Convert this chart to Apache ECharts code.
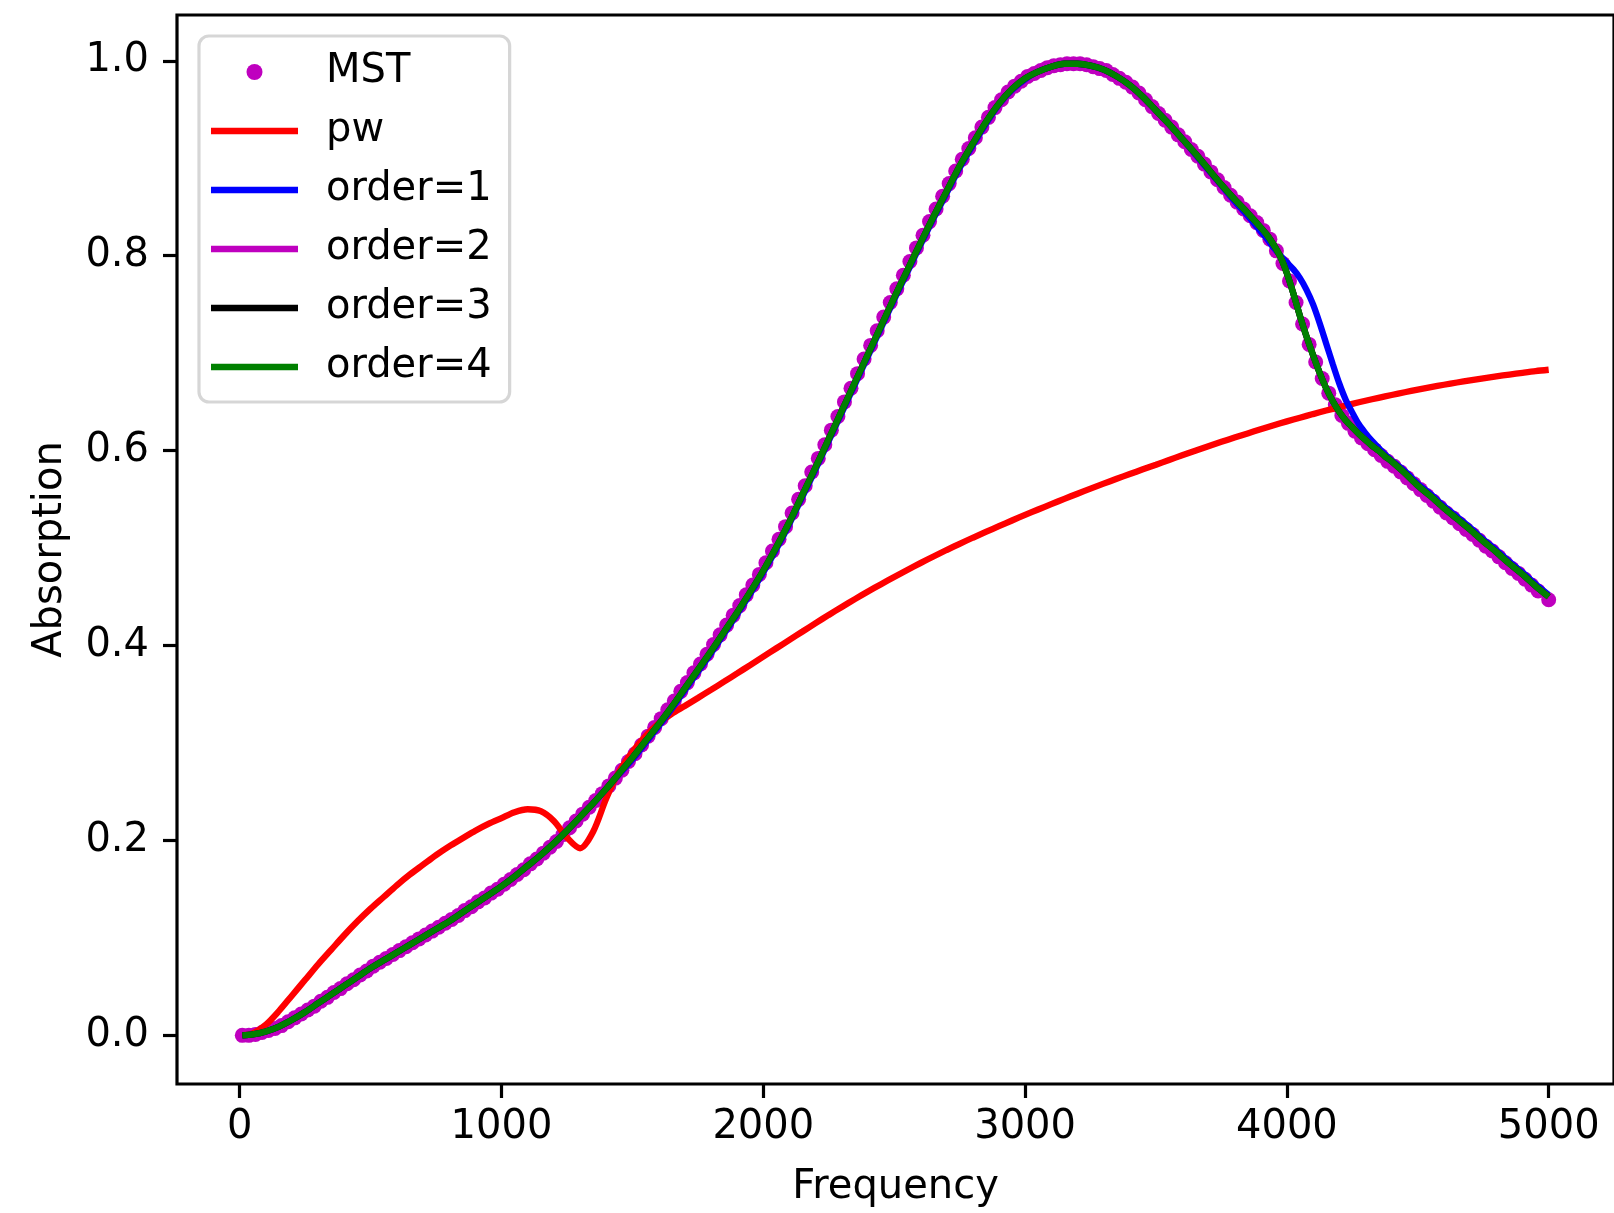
<!DOCTYPE html>
<html>
<head>
<meta charset="utf-8">
<script src="https://cdn.jsdelivr.net/npm/echarts@6/dist/echarts.min.js"></script>
<style>
html,body{margin:0;padding:0;background:#fff;}
#chart{width:1614px;height:1213px;}
</style>
</head>
<body>
<div id="chart"></div>
<script>
// ---- data ----
const mstFreq = [10,35,60,85,110,135,160,185,210,235,260,285,310,335,360,385,410,435,460,485,
510,535,560,585,610,635,660,685,710,735,760,785,810,835,860,885,910,935,960,985,
1010,1035,1060,1085,1110,1135,1160,1185,1210,1235,1260,1285,1310,1335,1360,1385,1410,1435,1460,1485,
1510,1535,1560,1585,1610,1635,1660,1685,1710,1735,1760,1785,1810,1835,1860,1885,1910,1935,1960,1985,
2010,2035,2060,2085,2110,2135,2160,2185,2210,2235,2260,2285,2310,2335,2360,2385,2410,2435,2460,2485,
2510,2535,2560,2585,2610,2635,2660,2685,2710,2735,2760,2785,2810,2835,2860,2885,2910,2935,2960,2985,
3010,3035,3060,3085,3110,3135,3160,3185,3210,3235,3260,3285,3310,3335,3360,3385,3410,3435,3460,3485,
3510,3535,3560,3585,3610,3635,3660,3685,3710,3735,3760,3785,3810,3835,3860,3885,3910,3935,3960,3985,
4010,4035,4060,4085,4110,4135,4160,4185,4210,4235,4260,4285,4310,4335,4360,4385,4410,4435,4460,4485,
4510,4535,4560,4585,4610,4635,4660,4685,4710,4735,4760,4785,4810,4835,4860,4885,4910,4935,4960,5000];

const mstAbs = [0.000,0.000,0.001,0.003,0.005,0.007,0.010,0.014,0.018,0.022,
0.026,0.030,0.035,0.039,0.044,0.048,0.053,0.057,0.062,0.066,
0.071,0.075,0.079,0.083,0.087,0.091,0.095,0.099,0.103,0.107,
0.111,0.115,0.119,0.123,0.128,0.132,0.137,0.141,0.146,0.150,
0.155,0.160,0.165,0.170,0.176,0.181,0.187,0.193,0.199,0.206,
0.213,0.220,0.227,0.234,0.241,0.248,0.256,0.264,0.272,0.281,
0.289,0.298,0.307,0.316,0.325,0.334,0.343,0.353,0.362,0.372,
0.381,0.391,0.401,0.411,0.421,0.431,0.441,0.452,0.462,0.473,
0.485,0.497,0.509,0.522,0.536,0.550,0.564,0.578,0.592,0.606,
0.621,0.635,0.650,0.664,0.679,0.694,0.708,0.723,0.737,0.752,
0.766,0.780,0.794,0.808,0.821,0.835,0.848,0.861,0.874,0.887,
0.899,0.910,0.921,0.932,0.942,0.952,0.960,0.968,0.974,0.979,
0.984,0.987,0.990,0.993,0.995,0.996,0.997,0.997,0.997,0.996,
0.994,0.992,0.990,0.986,0.982,0.978,0.973,0.967,0.960,0.953,
0.946,0.939,0.932,0.924,0.917,0.909,0.902,0.894,0.886,0.878,
0.870,0.862,0.855,0.848,0.841,0.834,0.826,0.817,0.805,0.792,
0.774,0.752,0.730,0.709,0.691,0.674,0.659,0.647,0.636,0.628,
0.620,0.613,0.607,0.601,0.595,0.589,0.584,0.578,0.572,0.566,
0.560,0.554,0.548,0.542,0.536,0.531,0.525,0.519,0.514,0.508,
0.502,0.497,0.491,0.485,0.479,0.474,0.468,0.462,0.456,0.447];

// pw (plane wave) curve
const pwFreq = [10,50,100,150,200,250,300,350,400,450,
500,550,600,650,700,750,800,850,900,950,
1000,1050,1100,1150,1200,1250,1300,1350,1400,1450,
1500,1550,1600,1650,1700,1750,1800,1850,1900,1950,
2000,2050,2100,2150,2200,2250,2300,2350,2400,2450,
2500,2550,2600,2650,2700,2750,2800,2850,2900,2950,
3000,3050,3100,3150,3200,3250,3300,3350,3400,3450,
3500,3550,3600,3650,3700,3750,3800,3850,3900,3950,
4000,4050,4100,4150,4200,4250,4300,4350,4400,4450,
4500,4550,4600,4650,4700,4750,4800,4850,4900,4950,
5000];
const pwAbs = [0.000,0.002,0.011,0.025,0.041,0.057,0.073,0.088,0.103,0.117,
0.130,0.142,0.154,0.165,0.175,0.185,0.194,0.202,0.210,0.217,
0.223,0.229,0.232,0.230,0.220,0.203,0.192,0.209,0.243,0.271,
0.291,0.307,0.320,0.330,0.3380,0.3462,0.3545,0.3629,0.3714,0.3800,
0.3886,0.3972,0.4058,0.4144,0.4230,0.4314,0.4396,0.4476,0.4554,0.4630,
0.4704,0.4776,0.4846,0.4914,0.4980,0.5044,0.5106,0.5166,0.5225,0.5283,
0.5340,0.5396,0.5451,0.5505,0.5558,0.5610,0.5661,0.5711,0.5760,0.5808,
0.5855,0.5904,0.5952,0.5999,0.6045,0.6090,0.6134,0.6177,0.6219,0.6260,
0.6300,0.6338,0.6375,0.6411,0.6446,0.6480,0.6512,0.6542,0.6571,0.6599,
0.6626,0.6652,0.6676,0.6699,0.6721,0.6742,0.6762,0.6781,0.6799,0.6816,
0.6830];

// fitted orders (finer steps around the 4 kHz feature)
const orderFreq = [10,50,100,150,200,250,300,350,400,450,
500,550,600,650,700,750,800,850,900,950,
1000,1050,1100,1150,1200,1250,1300,1350,1400,1450,
1500,1550,1600,1650,1700,1750,1800,1850,1900,1950,
2000,2050,2100,2150,2200,2250,2300,2350,2400,2450,
2500,2550,2600,2650,2700,2750,2800,2850,2900,2950,
3000,3050,3100,3150,3200,3250,3300,3350,3400,3450,
3500,3550,3600,3650,3700,3750,3800,3850,
3900,3925,3950,3975,4000,4025,4050,4075,4100,4125,4150,4175,4200,4225,4250,4275,4300,4325,4350,4375,4400,
4450,4500,4550,4600,4650,4700,4750,4800,4850,4900,4950,5000];

const order1Abs = [0.000,0.001,0.004,0.009,0.016,0.024,0.033,0.042,0.051,0.060,
0.069,0.077,0.085,0.093,0.101,0.109,0.117,0.126,0.135,0.144,
0.153,0.163,0.174,0.185,0.197,0.210,0.224,0.238,0.253,0.268,
0.283,0.300,0.317,0.335,0.354,0.373,0.392,0.412,0.432,0.453,
0.475,0.499,0.525,0.553,0.581,0.610,0.639,0.668,0.697,0.726,
0.755,0.783,0.811,0.838,0.864,0.890,0.913,0.935,0.955,0.970,
0.981,0.989,0.994,0.997,0.997,0.995,0.991,0.984,0.975,0.963,
0.949,0.935,0.920,0.904,0.888,0.872,0.856,0.841,
0.825,0.817,0.808,0.800,0.793,0.786,0.777,0.765,0.750,0.731,0.710,0.689,0.669,0.652,0.639,0.627,0.618,0.610,0.603,0.596,0.590,
0.579,0.566,0.555,0.543,0.532,0.521,0.509,0.498,0.486,0.475,0.463,0.452];

// order=2, order=3 and order=4 coincide in the picture
const order2Abs = [0.000,0.001,0.004,0.009,0.016,0.024,0.033,0.042,0.051,0.060,
0.069,0.077,0.085,0.093,0.101,0.109,0.117,0.126,0.135,0.144,
0.153,0.163,0.174,0.185,0.197,0.210,0.224,0.238,0.253,0.269,
0.285,0.302,0.319,0.337,0.356,0.375,0.394,0.414,0.434,0.455,
0.477,0.501,0.527,0.555,0.583,0.612,0.641,0.670,0.699,0.728,
0.757,0.785,0.813,0.840,0.866,0.892,0.915,0.937,0.956,0.971,
0.982,0.989,0.994,0.997,0.997,0.995,0.991,0.984,0.975,0.963,
0.949,0.935,0.920,0.905,0.889,0.873,0.858,0.844,
0.829,0.821,0.811,0.799,0.782,0.761,0.738,0.717,0.698,0.680,0.664,0.651,0.640,0.631,0.624,0.617,0.611,0.605,0.600,0.594,0.589,
0.577,0.564,0.553,0.541,0.530,0.519,0.507,0.496,0.484,0.473,0.461,0.450];
const order3Abs = order2Abs.slice();
const order4Abs = order2Abs.slice();

const xTicks = [0,1000,2000,3000,4000,5000];
const yTicks = [0,0.2,0.4,0.6,0.8,1.0];

// ---- chart ----
const FONT = 'DejaVu Sans';
const pairs = (xs, ys) => xs.map((x, i) => [x, ys[i]]);
const chart = echarts.init(document.getElementById('chart'), null, {renderer: 'canvas'});

function lineSeries(name, color, xs, ys) {
  return {
    name: name, type: 'line', data: pairs(xs, ys),
    symbol: 'none', showSymbol: false, smooth: 0.3,
    lineStyle: {color: color, width: 6.3}, itemStyle: {color: color},
    emphasis: {disabled: true}, silent: true, animation: false
  };
}
const LINE_ICON = 'path://M0,0H87V6.4H0Z';

chart.setOption({
  backgroundColor: '#ffffff',
  animation: false,
  grid: {left: 177, top: 15, width: 1437, height: 1072, show: true,
         borderColor: '#000', borderWidth: 3.2, backgroundColor: 'transparent'},
  xAxis: {
    type: 'value', min: -239.5, max: 5249.5,
    name: 'Frequency', nameLocation: 'middle', nameGap: 84,
    nameTextStyle: {fontSize: 40, fontFamily: FONT, color: '#000'},
    axisLine: {show: false, onZero: false},
    axisTick: {show: true, length: 14, lineStyle: {color: '#000', width: 3.2}, customValues: xTicks},
    axisLabel: {fontSize: 40, fontFamily: FONT, color: '#000', margin: 24,
                customValues: xTicks, formatter: v => String(v)},
    splitLine: {show: false}
  },
  yAxis: {
    type: 'value', min: -0.0499, max: 1.047,
    name: 'Absorption', nameLocation: 'middle', nameGap: 106, nameRotate: 90,
    nameTextStyle: {fontSize: 40, fontFamily: FONT, color: '#000'},
    axisLine: {show: false, onZero: false},
    axisTick: {show: true, length: 14, lineStyle: {color: '#000', width: 3.2}, customValues: yTicks},
    axisLabel: {fontSize: 40, fontFamily: FONT, color: '#000', margin: 28,
                customValues: yTicks, formatter: v => v.toFixed(1)},
    splitLine: {show: false}
  },
  legend: {
    orient: 'vertical', left: 199, top: 36,
    itemWidth: 87, itemHeight: 16, itemGap: 19,
    padding: [16, 18, 15, 12],
    backgroundColor: 'rgba(255,255,255,0.8)',
    borderColor: 'rgba(204,204,204,0.8)', borderWidth: 3.2, borderRadius: 10,
    selectedMode: false,
    textStyle: {fontSize: 40, fontFamily: FONT, color: '#000', lineHeight: 40, padding: [0, 0, 0, 23]},
    data: [
      {name: 'MST', icon: 'circle'},
      {name: 'pw', icon: LINE_ICON},
      {name: 'order=1', icon: LINE_ICON},
      {name: 'order=2', icon: LINE_ICON},
      {name: 'order=3', icon: LINE_ICON},
      {name: 'order=4', icon: LINE_ICON}
    ]
  },
  series: [
    {name: 'MST', type: 'scatter', data: pairs(mstFreq, mstAbs), symbol: 'circle', symbolSize: 15,
     itemStyle: {color: '#bf00bf', opacity: 1}, emphasis: {disabled: true}, silent: true, animation: false},
    lineSeries('pw', '#ff0000', pwFreq, pwAbs),
    lineSeries('order=1', '#0000ff', orderFreq, order1Abs),
    lineSeries('order=2', '#bf00bf', orderFreq, order2Abs),
    lineSeries('order=3', '#000000', orderFreq, order3Abs),
    lineSeries('order=4', '#008000', orderFreq, order4Abs)
  ]
});
</script>
</body>
</html>
